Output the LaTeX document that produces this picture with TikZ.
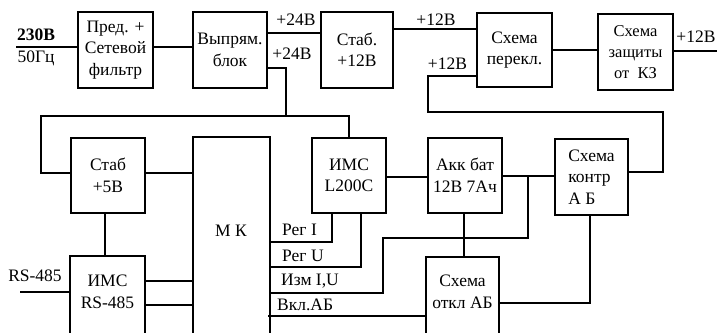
\documentclass[tikz,border=0pt]{standalone}
\usepackage{fontspec}
\setmainfont{Liberation Serif}
\newcommand{\fs}{\fontsize{17.5}{21.5}\selectfont}
\newcommand{\fss}{\fontsize{16.5}{21}\selectfont}
\begin{document}
\begin{tikzpicture}[x=1pt,y=-1pt,
  box/.style={draw, line width=2.8pt, inner sep=0pt, align=center, font=\fs},
  wire/.style={line width=2.8pt},
  lbl/.style={inner sep=0pt, font=\fs}]
\clip (0,0) rectangle (717,332);
\fill[white] (0,0) rectangle (717,332);
% boxes
\node[box, minimum width=75pt, minimum height=76pt] (filt) at (115.5,50) {Пред. +\\Сетевой\\фильтр};
\node[box, minimum width=74pt, minimum height=76pt] (rect) at (230,50) {Выпрям.\\блок};
\node[box, minimum width=72pt, minimum height=76pt] (st12) at (357,50) {Стаб.\\+12В};
\node[box, minimum width=75pt, minimum height=74pt] (sw) at (514.5,50) {Схема\\перекл.};
\node[box, minimum width=75pt, minimum height=76pt, font=\fss] (prot) at (635.5,52) {Схема\\защиты\\от\ \ КЗ};
\node[box, minimum width=74pt, minimum height=75pt] (st5) at (108,175.5) {Стаб\\+5В};
\node[box, minimum width=77pt, minimum height=215pt] (mk) at (231.5,244.5) {};
\node[lbl] (mktext) at (231,231) {М К};
\node[box, minimum width=75pt, minimum height=100pt] (rs) at (107.5,306) {};
\node[lbl, align=center] (rstext) at (107.5,292) {ИМС\\RS-485};
\node[box, minimum width=74pt, minimum height=75pt] (l200) at (349,175.5) {ИМС\\L200C};
\node[box, minimum width=74pt, minimum height=75pt] (akk) at (465,175.5) {Акк бат\\12В 7Ач};
\node[box, minimum width=73pt, minimum height=76pt, align=left] (contr) at (591.5,177) {Схема\\контр\\А Б};
\node[box, minimum width=73pt, minimum height=100pt] (otkl) at (462.5,307) {};
\node[lbl, align=center] (otkltext) at (462.5,292) {Схема\\откл АБ};
% free ends and junctions
\coordinate (in) at (16,47);
\coordinate (out) at (717,51);
\coordinate (rsin) at (20,292);
\coordinate (j24) at (286,116);
\coordinate (jl) at (41,116);
\coordinate (jb) at (528,176);
\coordinate (jbl) at (383,238);
\coordinate (jc) at (663,112);
\coordinate (js) at (428,112);
\coordinate (jv) at (268,316);
% wires
\draw[wire] (in) -- (filt.west |- in);
\draw[wire] (filt.east |- 0,47) -- (rect.west |- 0,47);
\draw[wire] (rect.east |- 0,33) -- (st12.west |- 0,33);
\draw[wire] (rect.east |- 0,68) -| (j24);
\draw[wire] (st5.west |- 0,173) -| (jl) -| (l200.north);
\draw[wire] (st5.east |- 0,173) -- (mk.west |- 0,173);
\draw[wire] (st5.south -| 105,0) -- (rs.north -| 105,0);
\draw[wire] (rsin) -- (rs.west |- rsin);
\draw[wire] (rs.east |- 0,281) -- (mk.west |- 0,281);
\draw[wire] (rs.east |- 0,305) -- (mk.west |- 0,305);
\draw[wire] (l200.east |- 0,177) -- (akk.west |- 0,177);
\draw[wire] (akk.east |- 0,176) -- (contr.west |- 0,176);
\draw[wire] (jb) |- (jbl) |- (mk.east |- 0,293);
\draw[wire] (mk.east |- 0,242) -| (l200.south -| 332,0);
\draw[wire] (mk.east |- 0,267) -| (l200.south -| 361,0);
\draw[wire] (jv) -- (otkl.west |- jv);
\draw[wire] (akk.south -| 464,0) -- (otkl.north -| 464,0);
\draw[wire] (contr.south -| 590,0) |- (otkl.east |- 0,303);
\draw[wire] (contr.east |- 0,172) -| (jc) -- (js) |- (sw.west |- 0,76);
\draw[wire] (st12.east |- 0,29) -- (sw.west |- 0,29);
\draw[wire] (sw.east |- 0,50) -- (prot.west |- 0,50);
\draw[wire] (prot.east |- out) -- (out);
% labels
\node[lbl, font=\fs\bfseries] (l230) at (36,35) {230В};
\node[lbl] (l50) at (36,58) {50Гц};
\node[lbl] (l24a) at (296,20) {+24В};
\node[lbl] (l24b) at (292,54) {+24В};
\node[lbl] (l12a) at (436,20) {+12В};
\node[lbl] (l12b) at (447.5,64) {+12В};
\node[lbl] (l12c) at (696,37) {+12В};
\node[lbl] (lrs) at (35,276) {RS-485};
\node[lbl, anchor=west] (lri) at (282,230) {Рег I};
\node[lbl, anchor=west] (lru) at (282,256) {Рег U};
\node[lbl, anchor=west] (liz) at (281,281) {Изм I,U};
\node[lbl, anchor=west] (lvk) at (277,305) {Вкл.АБ};
\end{tikzpicture}
\end{document}
